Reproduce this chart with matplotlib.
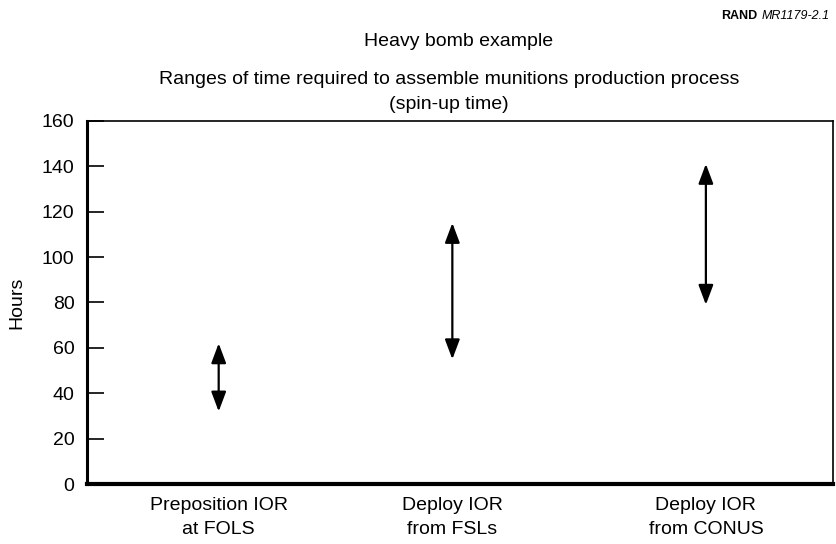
import matplotlib
matplotlib.use('Agg')
import matplotlib.pyplot as plt

plt.rcParams['font.family'] = ['Liberation Sans', 'DejaVu Sans']

# categories and spin-up time ranges (hours)
categories = ['Preposition IOR\nat FOLS', 'Deploy IOR\nfrom FSLs', 'Deploy IOR\nfrom CONUS']
low_hours = [32, 55, 79]
high_hours = [62, 115, 141]
yticks = [0, 20, 40, 60, 80, 100, 120, 140, 160]

xpos = [0.53, 1.47, 2.49]

fig = plt.figure(figsize=(8.36, 5.44), dpi=100)
ax = fig.add_axes([0.104, 0.110, 0.892, 0.668])

for x, lo, hi in zip(xpos, low_hours, high_hours):
    ax.annotate('', xy=(x, hi), xytext=(x, lo),
                arrowprops=dict(arrowstyle='<|-|>,head_length=1.2,head_width=0.45',
                                color='black', lw=1.6, shrinkA=0, shrinkB=0,
                                mutation_scale=10))

ax.set_xlim(0, 3)
ax.set_ylim(0, 160)
ax.set_yticks(yticks)
ax.tick_params(axis='y', direction='in', length=12, width=1.2, labelsize=14, pad=9)
ax.set_xticks(xpos)
ax.set_xticklabels(categories, fontsize=14, linespacing=1.55)
ax.tick_params(axis='x', length=0, pad=9)

ax.spines['left'].set_linewidth(2.2)
ax.spines['bottom'].set_linewidth(3)
ax.spines['top'].set_linewidth(1.2)
ax.spines['right'].set_linewidth(1.2)

ax.set_ylabel('Hours', fontsize=14)
ax.yaxis.set_label_coords(-0.083, 0.5)

fig.text(0.549, 0.923, 'Heavy bomb example', ha='center', va='center', fontsize=14)
fig.text(0.537, 0.831, 'Ranges of time required to assemble munitions production process\n(spin-up time)',
         ha='center', va='center', fontsize=14, linespacing=1.55)
fig.text(0.906, 0.970, 'RAND', ha='right', va='center', fontsize=9, fontweight='bold')
fig.text(0.911, 0.970, 'MR1179-2.1', ha='left', va='center', fontsize=9, style='italic')

fig.savefig('out.png', dpi=100)
